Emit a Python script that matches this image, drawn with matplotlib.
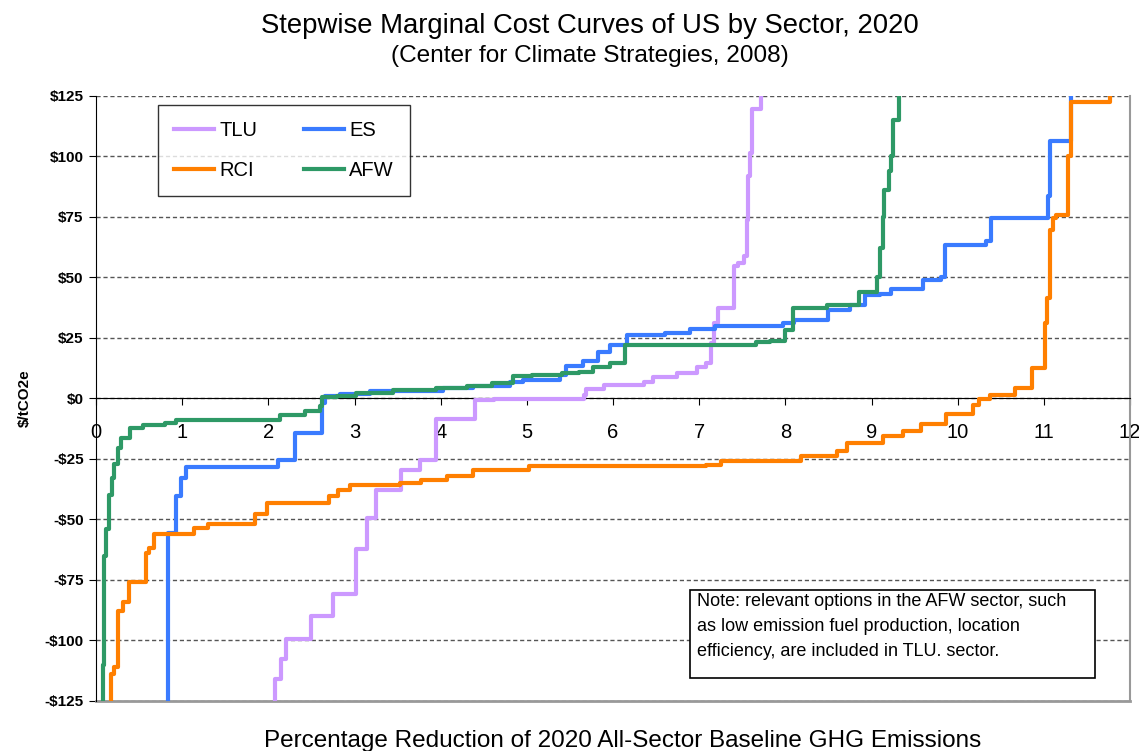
import matplotlib
matplotlib.use("Agg")
from matplotlib import pyplot as plt
from matplotlib.patches import Rectangle
import numpy as np

plt.rcParams['font.family'] = ['Liberation Sans', 'DejaVu Sans']

# step curves: x = cumulative % reduction where a step starts, y = $/tCO2e of that step
tlu_x = [2.08, 2.08, 2.15, 2.21, 2.50, 2.75, 3.02, 3.15, 3.25, 3.54, 3.76, 3.95, 4.40, 4.62,
         5.66, 5.69, 5.89, 6.36, 6.46, 6.74, 6.97, 7.08, 7.14, 7.17, 7.22, 7.40, 7.45, 7.52,
         7.55, 7.57, 7.59, 7.61, 7.72]
tlu_y = [-140, -115.8, -107.5, -99.3, -89.7, -80.8, -62.3, -49.3, -37.7, -29.5, -25.3, -8.3, -0.8, -0.2,
         1.4, 4.1, 5.5, 6.9, 9.0, 10.4, 13.1, 14.5, 22.8, 31.0, 37.3, 54.6, 56.0, 58.7,
         73.9, 91.9, 101.5, 119.5, 140]

es_x = [0.83, 0.83, 0.93, 0.99, 1.04, 2.11, 2.31, 2.62, 2.66, 2.83, 3.18, 4.03, 4.38, 4.80,
        4.96, 5.38, 5.46, 5.65, 5.82, 5.97, 6.16, 6.60, 6.89, 7.18, 7.97, 8.10, 8.50, 8.75,
        8.93, 9.10, 9.23, 9.60, 9.81, 9.85, 10.33, 10.39, 11.05, 11.07, 11.32]
es_y = [-140, -55.5, -40.4, -33.0, -28.4, -25.3, -14.4, -2.0, 0.9, 2.0, 2.9, 4.2, 5.2, 6.9,
        7.8, 9.9, 13.5, 15.3, 19.3, 22.1, 26.2, 27.2, 28.6, 30.0, 31.1, 32.5, 36.4, 38.7,
        42.8, 43.2, 45.2, 48.8, 50.4, 63.5, 65.0, 74.6, 83.6, 106.4, 140]

rci_x = [0.174, 0.174, 0.213, 0.251, 0.309, 0.387, 0.58, 0.619, 0.677, 1.14, 1.30, 1.84, 1.99,
         2.70, 2.81, 2.95, 3.53, 3.77, 4.07, 4.38, 5.03, 7.08, 7.25, 8.18, 8.60, 8.71, 9.13,
         9.36, 9.58, 9.87, 10.18, 10.25, 10.37, 10.66, 10.86, 11.01, 11.04, 11.07, 11.11,
         11.14, 11.28, 11.31, 11.77]
rci_y = [-140, -113.7, -111.0, -87.7, -84.2, -76.0, -63.7, -61.6, -56.2, -53.4, -52.0, -47.9, -43.0,
         -40.4, -37.7, -35.6, -34.9, -33.6, -32.2, -29.7, -28.1, -27.3, -25.9, -23.8, -21.7, -18.3, -15.3,
         -13.3, -10.5, -6.6, -2.8, -0.1, 1.4, 4.5, 12.4, 31.0, 41.4, 69.8, 74.6,
         76.0, 100.0, 122.5, 140]

afw_x = [0.075, 0.08, 0.088, 0.097, 0.116, 0.147, 0.18, 0.21, 0.25, 0.29, 0.39, 0.55, 0.80, 0.93,
         2.13, 2.42, 2.60, 2.62, 2.80, 3.02, 3.45, 3.95, 4.30, 4.60, 4.84, 5.06, 5.41, 5.61,
         5.77, 5.96, 6.14, 7.66, 7.82, 8.00, 8.09, 8.48, 8.86, 9.06, 9.10, 9.13, 9.15, 9.20,
         9.23, 9.25, 9.32]
afw_y = [-140, -110, -85, -65, -54, -40, -33, -27, -20.5, -16.4, -12.3, -11.0, -10.0, -9.0,
         -6.8, -5.3, -3.0, 0.5, 1.2, 2.2, 3.3, 4.2, 5.2, 6.4, 9.1, 9.9, 10.4, 11.0,
         13.1, 14.5, 22.1, 23.2, 23.9, 28.3, 37.3, 38.7, 44.2, 50.0, 62.0, 75.0, 86.0, 94.0,
         100.0, 115.0, 140]

yticks = [125, 100, 75, 50, 25, 0, -25, -50, -75, -100, -125]
ytick_labels = ["$125", "$100", "$75", "$50", "$25", "$0", "-$25", "-$50", "-$75", "-$100", "-$125"]
xticks = list(range(0, 13))

note = ("Note: relevant options in the AFW sector, such\n"
        "as low emission fuel production, location\n"
        "efficiency, are included in TLU. sector.")

fig = plt.figure(figsize=(11.39, 7.51), dpi=100)
ax = fig.add_axes([0.0843, 0.0666, 0.9078, 0.8056])

lw = 3
l_tlu, = ax.step(tlu_x, tlu_y, where='post', color='#CC99FF', lw=lw, label='TLU', zorder=3)
l_es, = ax.step(es_x, es_y, where='post', color='#3A7BFF', lw=lw, label='ES', zorder=3)
l_rci, = ax.step(rci_x, rci_y, where='post', color='#FF7F00', lw=lw, label='RCI', zorder=4)
l_afw, = ax.step(afw_x, afw_y, where='post', color='#2E9966', lw=lw, label='AFW', zorder=4)

ax.set_xlim(0, 12)
ax.set_ylim(-125, 125)

# frame: y axis black, x axis crossing at zero, plot area edges grey
ax.spines['bottom'].set_position(('data', 0))
ax.spines['bottom'].set_color('black')
ax.spines['left'].set_color('black')
ax.spines['top'].set_visible(False)
ax.spines['right'].set_color('#999999')
ax.spines['right'].set_linewidth(1.5)
ax.axhline(-125, color='#999999', lw=2, zorder=2, clip_on=False)

ax.set_yticks(yticks)
ax.set_yticklabels(ytick_labels, fontsize=11, fontweight='bold')
ax.set_xticks(xticks)
ax.set_xticklabels([str(t) for t in xticks], fontsize=14.5)
ax.tick_params(axis='x', direction='out', length=5, pad=13)
ax.tick_params(axis='y', direction='out', length=5, pad=4)
ax.yaxis.grid(True, linestyle=(0, (3, 2)), color='#555555', lw=1)
ax.set_axisbelow(True)

ax.set_ylabel("$/tCO2e", fontsize=11, fontweight='bold', labelpad=9)
fig.text(0.547, 0.0133, "Percentage Reduction of 2020 All-Sector Baseline GHG Emissions",
         ha='center', va='center', fontsize=17.5)

fig.text(0.518, 0.965, "Stepwise Marginal Cost Curves of US by Sector, 2020",
         ha='center', va='center', fontsize=19.8)
fig.text(0.518, 0.925, "(Center for Climate Strategies, 2008)",
         ha='center', va='center', fontsize=17.6)

leg = ax.legend([l_tlu, l_rci, l_es, l_afw], ['TLU', 'RCI', 'ES', 'AFW'], ncol=2,
                loc='upper left', bbox_to_anchor=(0.06, 0.985), borderaxespad=0,
                fontsize=14.5, frameon=True, fancybox=False, handlelength=2.0,
                handletextpad=0.25, columnspacing=2.3, labelspacing=1.05,
                borderpad=0.8)
leg.get_frame().set_edgecolor('black')
leg.get_frame().set_linewidth(1)

# note box
ax.add_patch(Rectangle((0.5745, 0.038), 0.3915, 0.1455, transform=ax.transAxes,
                       fc='white', ec='black', lw=1.2, zorder=6))
ax.text(0.581, 0.178, note, transform=ax.transAxes, ha='left', va='top',
        fontsize=13, linespacing=1.6, zorder=7)

plt.savefig("out.png", dpi=100)
